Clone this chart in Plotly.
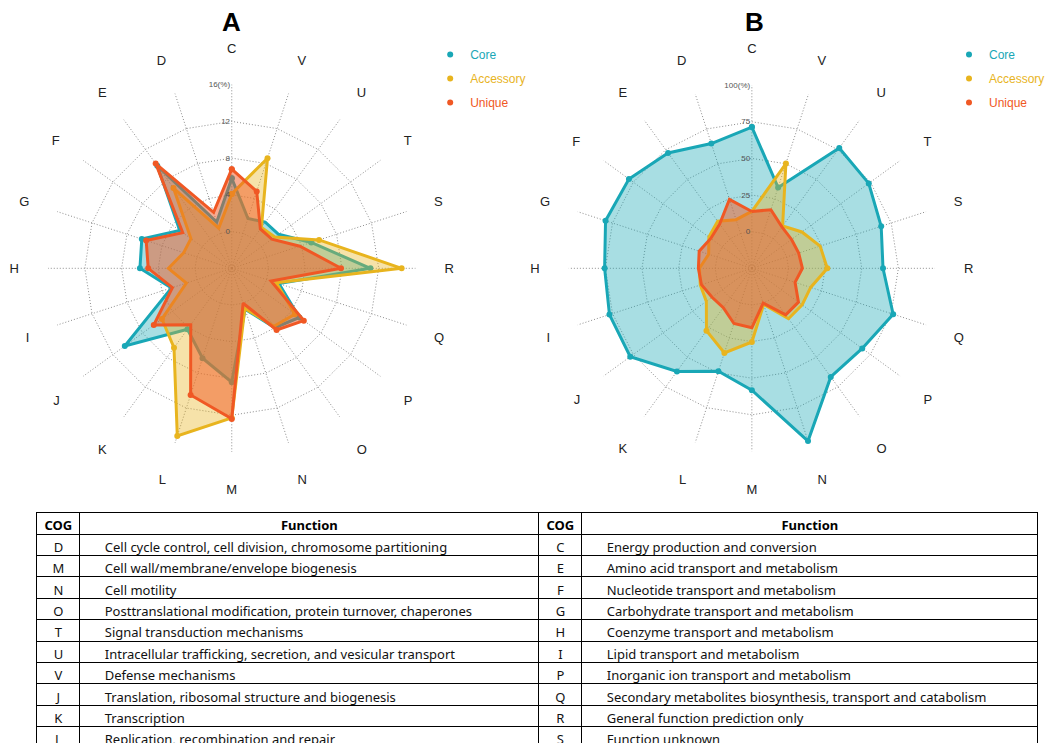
import plotly.graph_objects as go

# COG categories, clockwise from the top of each radar
cogs = ["C", "V", "U", "T", "S", "R", "Q", "P", "O", "N",
        "M", "L", "K", "J", "I", "H", "G", "F", "E", "D"]

# Panel A: share of each COG class within each pan-genome fraction (%)
core_pct = [5.8, 1.7, 2.2, 2.3, 5.1, 11.1, 1.4, 5.1, 4.0, 0.7,
            8.4, 6.3, 4.2, 10.4, 2.9, 6.0, 6.3, 3.0, 9.8, 1.3]
acc_pct = [4.1, 8.6, 1.5, 1.8, 6.0, 14.5, 1.1, 4.5, 3.8, 0.6,
           12.3, 15.2, 6.7, 5.4, 1.2, 2.9, 1.5, 1.5, 6.8, 0.6]
uniq_pct = [6.8, 4.8, 1.3, 1.4, 3.8, 7.9, 0.5, 5.7, 4.3, 0.0,
            12.4, 10.5, 3.6, 6.5, 2.8, 5.1, 5.8, 2.6, 10.1, 2.4]

# Panel B: split of each COG class between the three fractions (%)
core_share = [71.4, 33.0, 76.5, 73.6, 67.8, 64.5, 76.4, 68.1, 66.6, 99.0,
              58.2, 48.9, 62.0, 77.6, 77.2, 75.5, 80.0, 78.7, 72.3, 64.5]
acc_share = [13.8, 50.2, 10.7, 17.2, 24.0, 26.5, 17.2, 17.4, 17.5, 1.0,
             25.3, 35.7, 27.7, 13.4, 12.0, 10.8, 6.0, 11.3, 14.7, 9.9]
uniq_share = [13.8, 17.0, 9.9, 8.5, 8.6, 9.5, 6.0, 14.3, 14.3, 0.0,
              15.6, 14.6, 8.2, 8.6, 11.2, 11.5, 12.8, 9.7, 12.4, 24.5]

series_names = ["Core", "Accessory", "Unique"]
line_colors = ["#19a7b6", "#e8b41e", "#f05824"]
fill_colors = ["rgba(25,167,182,0.38)", "rgba(232,180,30,0.38)", "rgba(240,88,36,0.5)"]

radial_a_ticks = [0, 4, 8, 12, 16]
radial_a_text = ["0", "4", "8", "12", "16(%)"]
radial_b_ticks = [0, 25, 50, 75, 100]
radial_b_text = ["0", "25", "50", "75", "100(%)"]

table_head = ["COG", "Function", "COG", "Function"]
left_codes = ["D", "M", "N", "O", "T", "U", "V", "J", "K", "L"]
left_funcs = [
    "Cell cycle control, cell division, chromosome partitioning",
    "Cell wall/membrane/envelope biogenesis",
    "Cell motility",
    "Posttranslational modification, protein turnover, chaperones",
    "Signal transduction mechanisms",
    "Intracellular trafficking, secretion, and vesicular transport",
    "Defense mechanisms",
    "Translation, ribosomal structure and biogenesis",
    "Transcription",
    "Replication, recombination and repair",
]
right_codes = ["C", "E", "F", "G", "H", "I", "P", "Q", "R", "S"]
right_funcs = [
    "Energy production and conversion",
    "Amino acid transport and metabolism",
    "Nucleotide transport and metabolism",
    "Carbohydrate transport and metabolism",
    "Coenzyme transport and metabolism",
    "Lipid transport and metabolism",
    "Inorganic ion transport and metabolism",
    "Secondary metabolites biosynthesis, transport and catabolism",
    "General function prediction only",
    "Function unknown",
]

W, H = 1050, 744
FONT = "Liberation Sans"
GRID = "#8c8c8c"


def px_x(v):
    return v / W


def px_y(v):
    return 1 - v / H


fig = go.Figure()

panels = [
    ("polar", "legend", [core_pct, acc_pct, uniq_pct]),
    ("polar2", "legend2", [core_share, acc_share, uniq_share]),
]

for subplot, legend_id, values in panels:
    for name, vals, lc, fc in zip(series_names, values, line_colors, fill_colors):
        fig.add_trace(go.Scatterpolar(
            r=vals + vals[:1],
            theta=cogs + cogs[:1],
            mode="lines+markers",
            fill="toself",
            fillcolor=fc,
            line=dict(color=lc, width=3),
            marker=dict(color=lc, size=6),
            name=name,
            subplot=subplot,
            showlegend=False,
            hoverinfo="skip",
        ))
    # dot-only legend entries, label text tinted with the series colour
    for i, (name, lc) in enumerate(zip(series_names, line_colors)):
        fig.add_trace(go.Scatterpolar(
            r=[None],
            theta=[cogs[0]],
            mode="markers",
            marker=dict(color=lc, size=6),
            name=f"<span style='color:{lc}'>{name}</span>",
            subplot=subplot,
            legend=legend_id,
            legendgroup=f"{legend_id}-{i}",
            showlegend=True,
        ))

indent = "\u00a0" * 5
fig.add_trace(go.Table(
    domain=dict(x=[px_x(37), px_x(1040)], y=[0, px_y(512)]),
    columnwidth=[43, 460, 43, 457],
    header=dict(
        values=table_head,
        align="center",
        height=22,
        line=dict(color="black", width=1),
        fill=dict(color="white"),
        font=dict(family="Noto Sans", size=13, color="black", weight="bold"),
    ),
    cells=dict(
        values=[
            left_codes,
            [indent + f for f in left_funcs],
            right_codes,
            [indent + f for f in right_funcs],
        ],
        align=["center", "left", "center", "left"],
        height=21.4,
        line=dict(color="black", width=1),
        fill=dict(color="white"),
        font=dict(family="Noto Sans", size=13, color="#111"),
    ),
))


def polar_layout(cx, cy, radius, rng, tickvals, ticktext):
    return dict(
        domain=dict(x=[px_x(cx - radius), px_x(cx + radius)],
                    y=[px_y(cy + radius), px_y(cy - radius)]),
        bgcolor="white",
        gridshape="linear",
        angularaxis=dict(
            type="category",
            categoryarray=cogs,
            direction="clockwise",
            rotation=90,
            showline=False,
            showgrid=True,
            gridcolor=GRID,
            griddash="1px,2px",
            gridwidth=1,
            ticks="outside",
            ticklen=26,
            tickcolor="rgba(0,0,0,0)",
            tickfont=dict(family=FONT, size=13, color="#222"),
        ),
        radialaxis=dict(
            range=rng,
            tickvals=tickvals,
            ticktext=ticktext,
            showline=False,
            showgrid=True,
            gridcolor=GRID,
            griddash="1px,2px",
            gridwidth=1,
            angle=90,
            tickangle=90,
            side="counterclockwise",
            ticks="",
            tickfont=dict(family=FONT, size=8, color="#555"),
        ),
    )


legend_common = dict(
    xanchor="left",
    yanchor="top",
    bgcolor="rgba(0,0,0,0)",
    borderwidth=0,
    tracegroupgap=5,
    font=dict(family=FONT, size=12),
)

fig.update_layout(
    width=W,
    height=H,
    margin=dict(l=0, r=0, t=0, b=0),
    paper_bgcolor="white",
    polar=polar_layout(232.2, 268.3, 184, [-4, 16], radial_a_ticks, radial_a_text),
    polar2=polar_layout(753.3, 268.3, 183.5, [-25, 100], radial_b_ticks, radial_b_text),
    legend=dict(x=px_x(431), y=px_y(40), **legend_common),
    legend2=dict(x=px_x(951), y=px_y(40), **legend_common),
    annotations=[
        dict(text="<b>A</b>", x=px_x(232), y=px_y(22), xref="paper", yref="paper",
             showarrow=False, xanchor="center", yanchor="middle",
             font=dict(family=FONT, size=26, color="black")),
        dict(text="<b>B</b>", x=px_x(755.7), y=px_y(22), xref="paper", yref="paper",
             showarrow=False, xanchor="center", yanchor="middle",
             font=dict(family=FONT, size=26, color="black")),
    ],
)

fig.write_html("out.html")
